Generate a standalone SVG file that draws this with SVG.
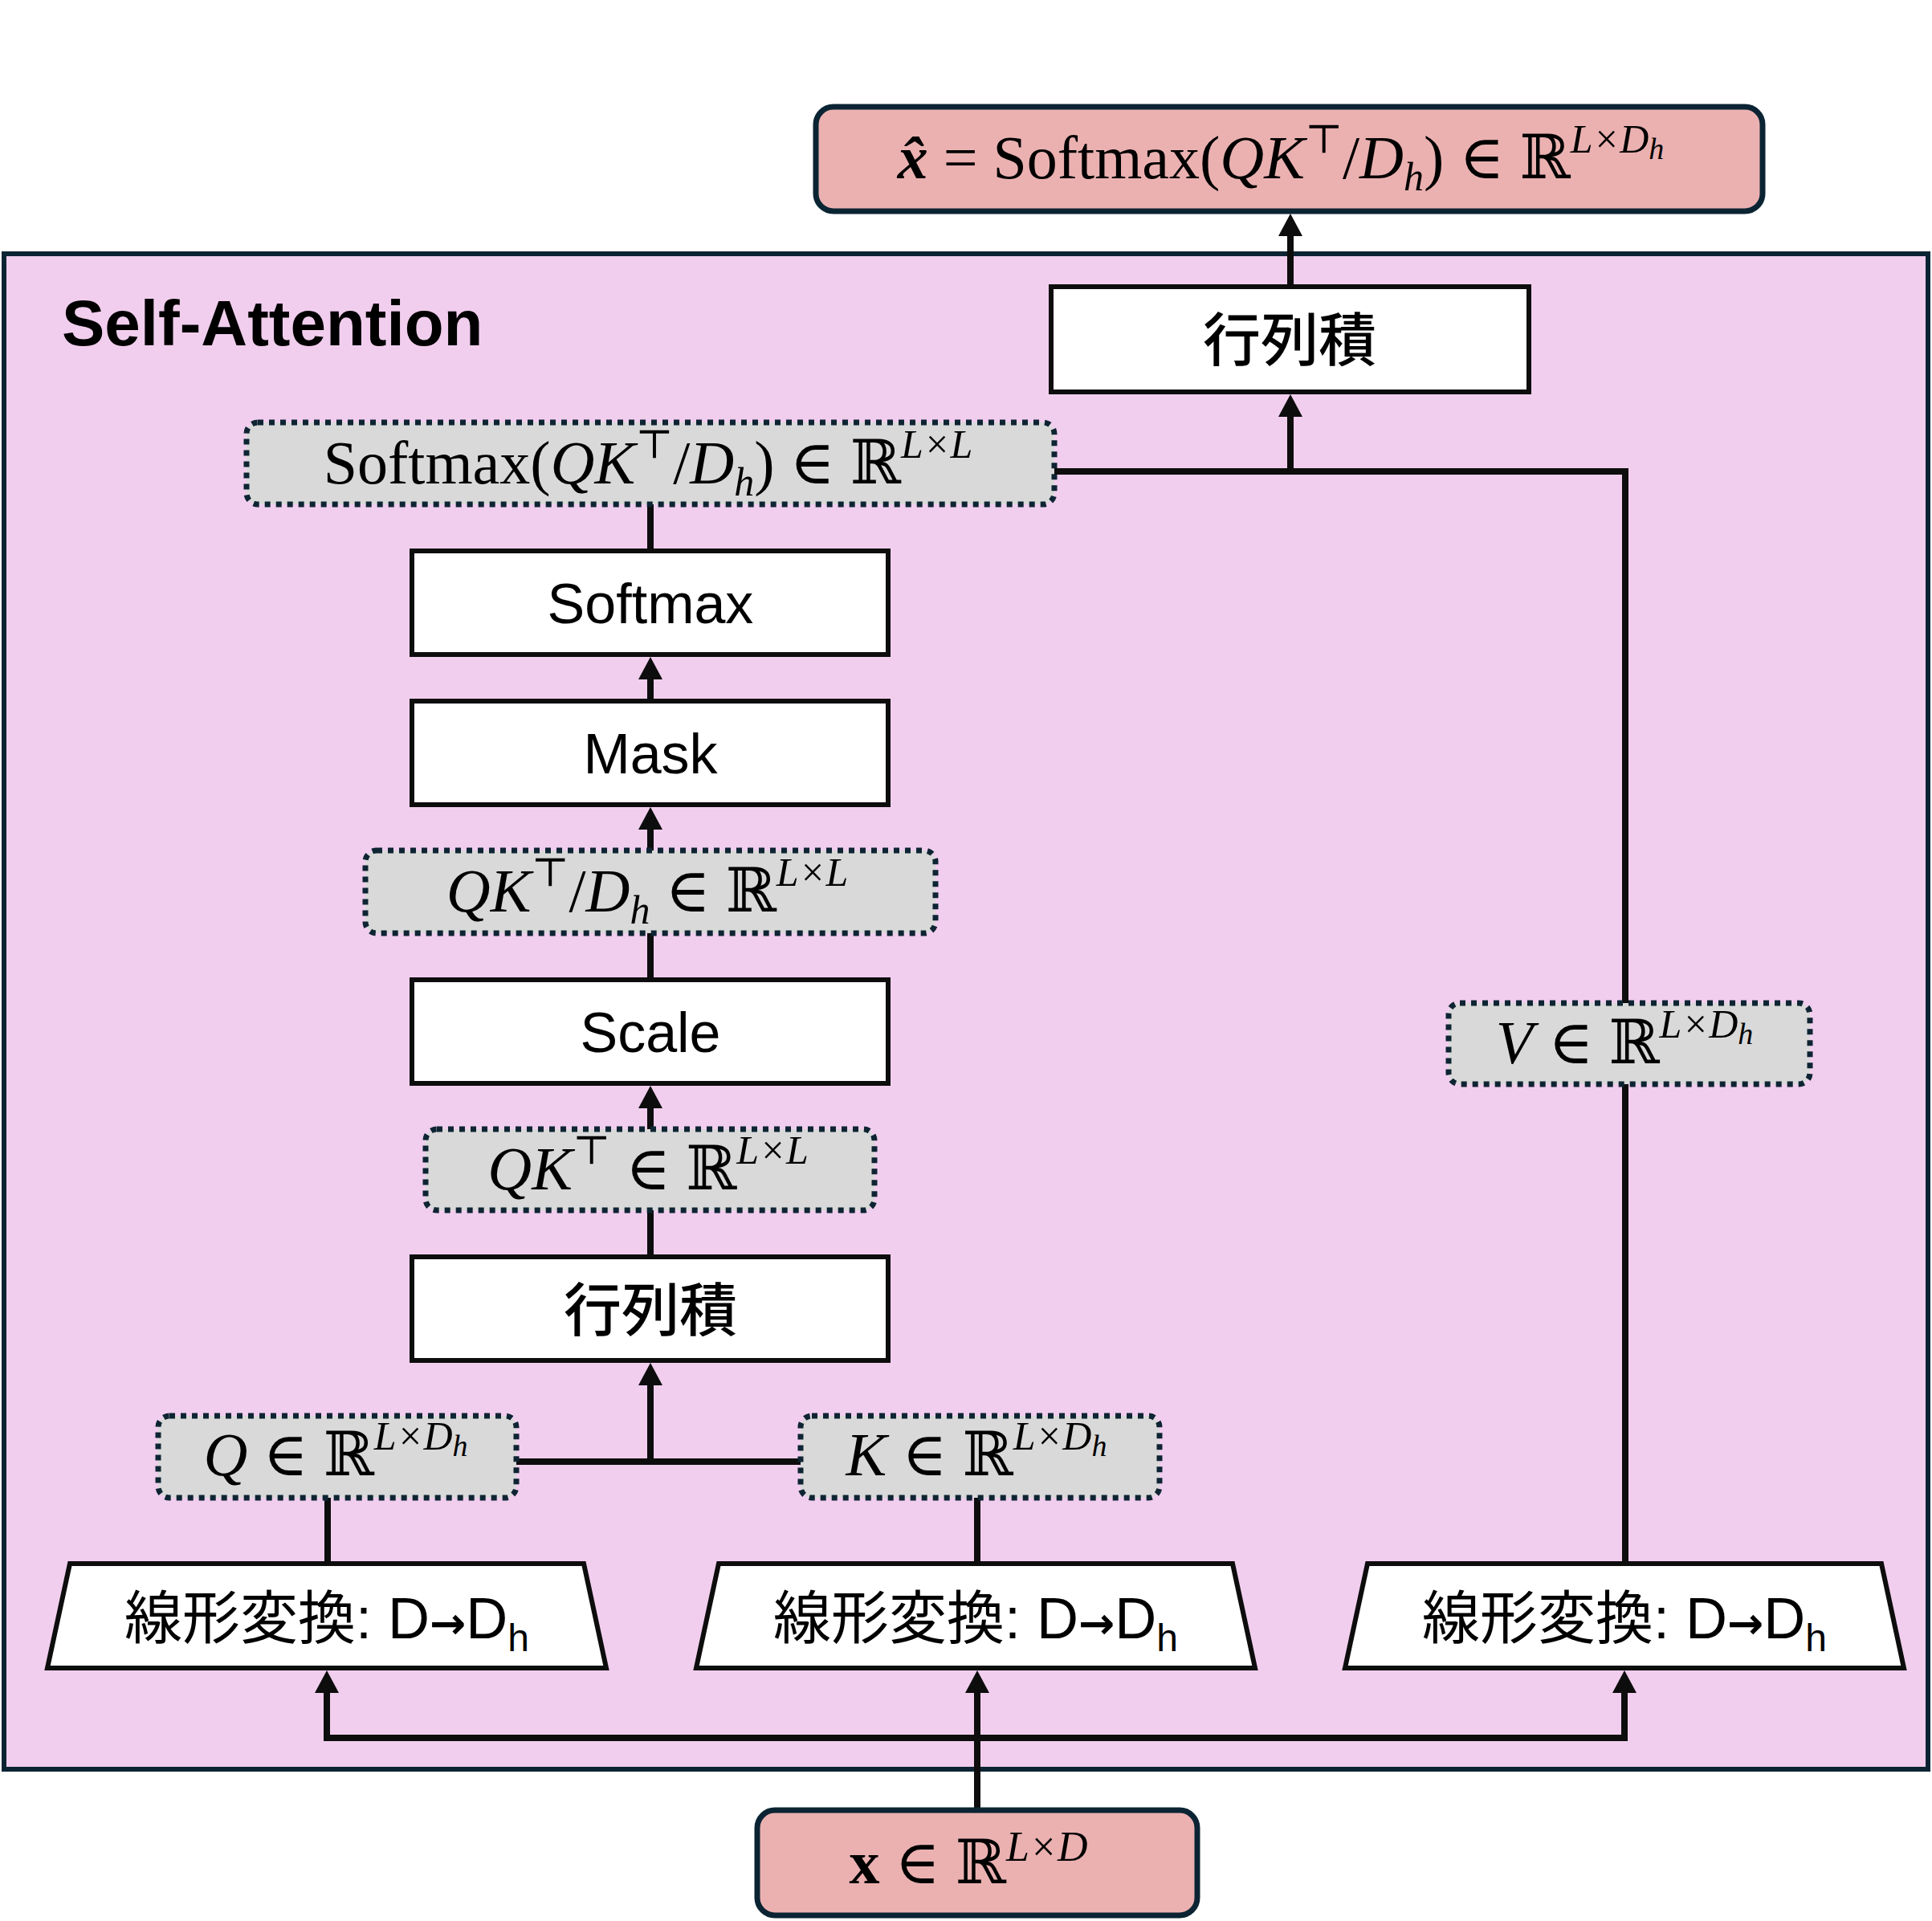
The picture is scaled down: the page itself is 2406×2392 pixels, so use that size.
<svg xmlns="http://www.w3.org/2000/svg" width="2406" height="2392" viewBox="0 0 2406 2392">
<style>
.box{fill:#fff;stroke:#0D0D0D;stroke-width:6}
.dot{fill:#D9D9D9;stroke:#0E2433;stroke-width:7;stroke-dasharray:7 7}
.io{fill:#EBB1B1;stroke:#0B2433;stroke-width:7}
.conn{fill:none;stroke:#0D0D0D;stroke-width:8}
.arr{fill:none;stroke:#0D0D0D;stroke-width:8;marker-end:url(#ah)}
.lbl{font-family:"Liberation Sans",Arial,sans-serif;font-size:70px;text-anchor:middle;fill:#000}
.cjk{font-family:"Noto Sans CJK JP",sans-serif;font-size:72px;font-weight:500;text-anchor:middle;fill:#000}
.tz{font-family:"Liberation Sans","Noto Sans CJK JP",sans-serif;font-size:72px;text-anchor:middle;fill:#000}
.ar{font-family:"DejaVu Sans",sans-serif;font-weight:bold;font-size:54px}
.m{font-family:"Liberation Serif","DejaVu Serif",serif;font-size:76px;text-anchor:middle;fill:#000}
.i{font-style:italic}
</style>
<defs>
<marker id="ah" markerUnits="userSpaceOnUse" markerWidth="30" markerHeight="30" viewBox="0 0 28 30" refX="2" refY="15" orient="auto">
<path d="M0,0 L28,15 L0,30 Z" fill="#0D0D0D"/>
</marker>
</defs>
<rect width="2406" height="2392" fill="#fff"/>

<g id="container">
<rect x="5" y="316" width="2396" height="1887" fill="#F1CEEE" stroke="#0B2433" stroke-width="6"/>
<text x="77" y="430" font-family="Liberation Sans,Arial,sans-serif" font-size="80" font-weight="bold">Self-Attention</text>
</g>

<g id="connectors">
<line class="arr" x1="1217" y1="2254" x2="1217" y2="2106"/>
<path class="arr" d="M1217,2164 H407 V2106"/>
<path class="arr" d="M1217,2164 H2023 V2106"/>
<line class="conn" x1="408" y1="1947" x2="408" y2="1865"/>
<line class="conn" x1="1217" y1="1947" x2="1217" y2="1865"/>
<line class="conn" x1="643" y1="1820" x2="997" y2="1820"/>
<line class="arr" x1="810" y1="1820" x2="810" y2="1723"/>
<line class="conn" x1="810" y1="1565" x2="810" y2="1507"/>
<line class="arr" x1="810" y1="1406" x2="810" y2="1378"/>
<line class="conn" x1="810" y1="1220" x2="810" y2="1162"/>
<line class="arr" x1="810" y1="1059" x2="810" y2="1031"/>
<line class="arr" x1="810" y1="873" x2="810" y2="844"/>
<line class="conn" x1="810" y1="686" x2="810" y2="628"/>
<path class="conn" d="M1313,587 H2024 V1249"/>
<line class="conn" x1="2024" y1="1350" x2="2024" y2="1947"/>
<line class="arr" x1="1607" y1="587" x2="1607" y2="517"/>
<line class="arr" x1="1607" y1="357" x2="1607" y2="292"/>
</g>

<g id="out">
<rect class="io" x="1016" y="133" width="1179" height="130" rx="22"/>
<text class="m" x="1595" y="222"><tspan font-weight="bold" class="i">x̂</tspan> = Softmax(<tspan class="i">QK</tspan><tspan dy="-32" font-size="50">⊤</tspan><tspan dy="32">/</tspan><tspan class="i">D</tspan><tspan dy="15" font-size="50" class="i">h</tspan><tspan dy="-15">) ∈ ℝ</tspan><tspan dy="-32" font-size="50" class="i">L×D</tspan><tspan dy="8" font-size="38" class="i">h</tspan></text>
</g>

<g id="matmul2">
<rect class="box" x="1309" y="357" width="595" height="131"/>
<text class="cjk" x="1606" y="449">行列積</text>
</g>

<g id="softmax-out">
<rect class="dot" x="307" y="526" width="1006" height="102" rx="14"/>
<text class="m" x="807" y="602">Softmax(<tspan class="i">QK</tspan><tspan dy="-32" font-size="50">⊤</tspan><tspan dy="32">/</tspan><tspan class="i">D</tspan><tspan dy="15" font-size="50" class="i">h</tspan><tspan dy="-15">) ∈ ℝ</tspan><tspan dy="-32" font-size="50" class="i">L×L</tspan></text>
</g>

<g id="softmax">
<rect class="box" x="513" y="686" width="593" height="129"/>
<text class="lbl" x="810" y="776">Softmax</text>
</g>

<g id="mask">
<rect class="box" x="513" y="873" width="593" height="129"/>
<text class="lbl" x="810" y="963">Mask</text>
</g>

<g id="scaled">
<rect class="dot" x="455" y="1059" width="710" height="103" rx="14"/>
<text class="m" x="806" y="1135"><tspan class="i">QK</tspan><tspan dy="-32" font-size="50">⊤</tspan><tspan dy="32">/</tspan><tspan class="i">D</tspan><tspan dy="15" font-size="50" class="i">h</tspan><tspan dy="-15"> ∈ ℝ</tspan><tspan dy="-32" font-size="50" class="i">L×L</tspan></text>
</g>

<g id="scale">
<rect class="box" x="513" y="1220" width="593" height="129"/>
<text class="lbl" x="810" y="1310">Scale</text>
</g>

<g id="qkt">
<rect class="dot" x="530" y="1406" width="559" height="101" rx="14"/>
<text class="m" x="807" y="1481"><tspan class="i">QK</tspan><tspan dy="-32" font-size="50">⊤</tspan><tspan dy="32"> ∈ ℝ</tspan><tspan dy="-32" font-size="50" class="i">L×L</tspan></text>
</g>

<g id="matmul1">
<rect class="box" x="513" y="1565" width="593" height="129"/>
<text class="cjk" x="810" y="1657">行列積</text>
</g>

<g id="q">
<rect class="dot" x="197" y="1763" width="446" height="102" rx="14"/>
<text class="m" x="418" y="1837"><tspan class="i">Q</tspan> ∈ ℝ<tspan dy="-32" font-size="50" class="i">L×D</tspan><tspan dy="8" font-size="38" class="i">h</tspan></text>
</g>

<g id="k">
<rect class="dot" x="997" y="1763" width="447" height="102" rx="14"/>
<text class="m" x="1216" y="1837"><tspan class="i">K</tspan> ∈ ℝ<tspan dy="-32" font-size="50" class="i">L×D</tspan><tspan dy="8" font-size="38" class="i">h</tspan></text>
</g>

<g id="v">
<rect class="dot" x="1804" y="1249" width="450" height="101" rx="14"/>
<text class="m" x="2023" y="1324"><tspan class="i">V</tspan> ∈ ℝ<tspan dy="-32" font-size="50" class="i">L×D</tspan><tspan dy="8" font-size="38" class="i">h</tspan></text>
</g>

<g id="linear-q">
<polygon class="box" points="87,1947 727,1947 755,2077 59,2077"/>
<text class="tz" x="407" y="2040">線形変換: D<tspan class="ar">→</tspan>D<tspan dy="16" font-size="48">h</tspan></text>
</g>

<g id="linear-k">
<polygon class="box" points="895,1947 1535,1947 1563,2077 867,2077"/>
<text class="tz" x="1215" y="2040">線形変換: D<tspan class="ar">→</tspan>D<tspan dy="16" font-size="48">h</tspan></text>
</g>

<g id="linear-v">
<polygon class="box" points="1703,1947 2343,1947 2371,2077 1675,2077"/>
<text class="tz" x="2023" y="2040">線形変換: D<tspan class="ar">→</tspan>D<tspan dy="16" font-size="48">h</tspan></text>
</g>

<g id="input">
<rect class="io" x="943" y="2254" width="548" height="131" rx="22"/>
<text class="m" x="1206" y="2345"><tspan font-weight="bold">x</tspan> ∈ ℝ<tspan dy="-28" font-size="52" class="i">L×D</tspan></text>
</g>
</svg>
